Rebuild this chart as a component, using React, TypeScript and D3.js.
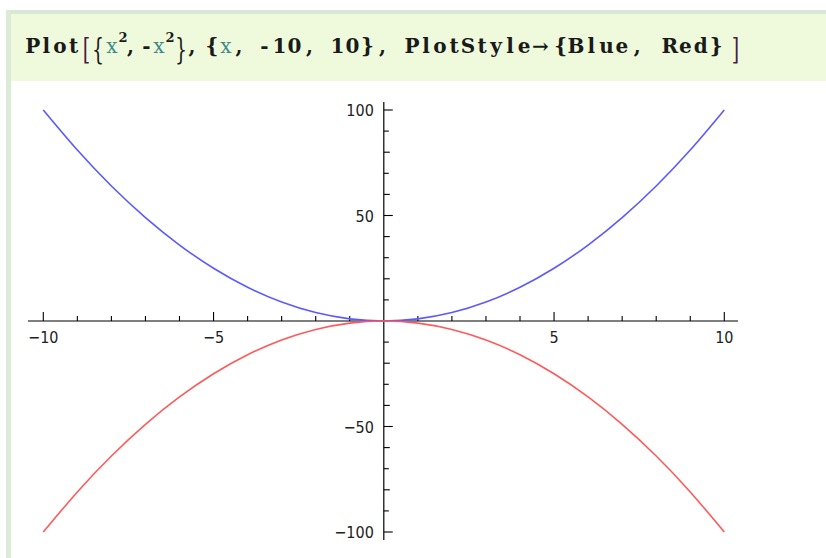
import React from "react";
import * as d3 from "d3";

// Sample points of the two plotted curves
const xs = [-10, -9, -8, -7, -6, -5, -4, -3, -2, -1, 0, 1, 2, 3, 4, 5, 6, 7, 8, 9, 10];
const blueYs = [100, 81, 64, 49, 36, 25, 16, 9, 4, 1, 0, 1, 4, 9, 16, 25, 36, 49, 64, 81, 100];
const redYs = [-100, -81, -64, -49, -36, -25, -16, -9, -4, -1, 0, -1, -4, -9, -16, -25, -36, -49, -64, -81, -100];

const xMajorTicks = [-10, -5, 5, 10];
const xMinorTicks = [-9, -8, -7, -6, -4, -3, -2, -1, 1, 2, 3, 4, 6, 7, 8, 9];
const yMajorTicks = [-100, -50, 50, 100];
const yMinorTicks = [-90, -80, -70, -60, -40, -30, -20, -10, 10, 20, 30, 40, 60, 70, 80, 90];

const W = 826;
const H = 558;

const fmt = (v: number) => (v < 0 ? "\u2212" + Math.abs(v) : String(v));

const teal = "#3f8a8a";
const dark = "#1a1a1a";
const bracketColor = "#4a1c44";
const codeFont = "'DejaVu Serif', serif";
const tickFont = "'DejaVu Sans Condensed', 'DejaVu Sans', sans-serif";

// Pieces of the input expression: each glyph sits centred in a fixed-width cell,
// which gives the typewriter look of the notebook input font.
type Piece = { t: string; x: number; cw: number; color?: string; kind?: "big" | "sup" | "plain" };

const code: Piece[] = [
  { t: "Plot", x: 26, cw: 13.6 },
  { t: "[", x: 82, cw: 9, kind: "big", color: bracketColor },
  { t: "{", x: 92, cw: 12, kind: "big" },
  { t: "x", x: 105, cw: 14, color: teal, kind: "plain" },
  { t: "2", x: 119, cw: 8, kind: "sup" },
  { t: ",", x: 126, cw: 9 },
  { t: "-", x: 141, cw: 11 },
  { t: "x", x: 152, cw: 14, color: teal, kind: "plain" },
  { t: "2", x: 166, cw: 8, kind: "sup" },
  { t: "}", x: 175, cw: 12, kind: "big" },
  { t: ",", x: 188, cw: 8 },
  { t: "{", x: 205, cw: 14 },
  { t: "x", x: 219, cw: 14, color: teal, kind: "plain" },
  { t: ",", x: 233, cw: 12 },
  { t: "-10,", x: 257, cw: 15 },
  { t: "10},", x: 330, cw: 15 },
  { t: "PlotStyle", x: 405, cw: 14 },
  { t: "\u2192", x: 532, cw: 17 },
  { t: "{Blue,", x: 553, cw: 15.3 },
  { t: "Red}", x: 662, cw: 15.5 },
  { t: "]", x: 731, cw: 9, kind: "big", color: bracketColor },
];

export default function App() {
  const x = d3.scaleLinear().domain([-10, 10]).range([43.3, 724.3]);
  const y = d3.scaleLinear().domain([-100, 100]).range([532, 110]);

  const line = d3
    .line<number>()
    .x((_, i) => x(xs[i]))
    .curve(d3.curveNatural);

  const bluePath = line.y((d) => y(d))(blueYs) || "";
  const redPath = line.y((d) => y(d))(redYs) || "";

  const x0 = x(0);
  const y0 = y(0);

  const glyphs: React.ReactNode[] = [];
  code.forEach((p, i) => {
    Array.from(p.t).forEach((ch, j) => {
      const cx = p.x + (j + 0.5) * p.cw;
      const key = `c${i}-${j}`;
      if (p.kind === "big") {
        glyphs.push(
          <text
            key={key}
            transform={`translate(${cx},59) scale(1,1.55)`}
            textAnchor="middle"
            fontFamily={codeFont}
            fontSize={19}
            fill={p.color || dark}
          >
            {ch}
          </text>
        );
      } else {
        glyphs.push(
          <text
            key={key}
            x={cx}
            y={p.kind === "sup" ? 42 : 53}
            textAnchor="middle"
            fontFamily={codeFont}
            fontSize={p.kind === "sup" ? 13 : 20}
            fontWeight={p.kind === "plain" ? "normal" : "bold"}
            fill={p.color || dark}
          >
            {ch}
          </text>
        );
      }
    });
  });

  return (
    <svg width={W} height={H} style={{ position: "fixed", left: 0, top: 0, background: "#fff" }}>
      {/* notebook cell frame */}
      <rect x={0} y={0} width={W} height={H} fill="#ffffff" />
      <rect x={6} y={10} width={W - 6} height={4} fill="#d9e7d5" />
      <rect x={6} y={10} width={5} height={H - 10} fill="#dcebd8" />
      <rect x={11} y={14} width={W - 11} height={67} fill="#effadd" />

      {/* input expression */}
      {glyphs}

      {/* axes */}
      <line x1={28} x2={738} y1={y0} y2={y0} stroke="#000" strokeWidth={1.2} />
      <line x1={x0} x2={x0} y1={102} y2={540} stroke="#000" strokeWidth={1.2} />

      {xMinorTicks.map((t) => (
        <line key={"xm" + t} x1={x(t)} x2={x(t)} y1={y0} y2={y0 - 5} stroke="#000" strokeWidth={1.1} />
      ))}
      {xMajorTicks.map((t) => (
        <line key={"xM" + t} x1={x(t)} x2={x(t)} y1={y0} y2={y0 - 9} stroke="#000" strokeWidth={1.1} />
      ))}
      {yMinorTicks.map((t) => (
        <line
          key={"ym" + t}
          x1={x0}
          x2={x0 + (t % 20 === 0 ? 6 : 5)}
          y1={y(t)}
          y2={y(t)}
          stroke="#000"
          strokeWidth={1.1}
        />
      ))}
      {yMajorTicks.map((t) => (
        <line key={"yM" + t} x1={x0} x2={x0 + 9} y1={y(t)} y2={y(t)} stroke="#000" strokeWidth={1.1} />
      ))}

      {xMajorTicks.map((t) => (
        <text key={"xl" + t} x={x(t)} y={y0 + 22} textAnchor="middle" fontFamily={tickFont} fontSize={16} fill="#222">
          {fmt(t)}
        </text>
      ))}
      {yMajorTicks.map((t) => (
        <text key={"yl" + t} x={x0 - 10} y={y(t) + 6} textAnchor="end" fontFamily={tickFont} fontSize={16} fill="#222">
          {fmt(t)}
        </text>
      ))}

      {/* curves */}
      <path d={bluePath} fill="none" stroke="#5a5aff" strokeWidth={1.6} />
      <path d={redPath} fill="none" stroke="#ff5a5a" strokeWidth={1.6} />
    </svg>
  );
}
